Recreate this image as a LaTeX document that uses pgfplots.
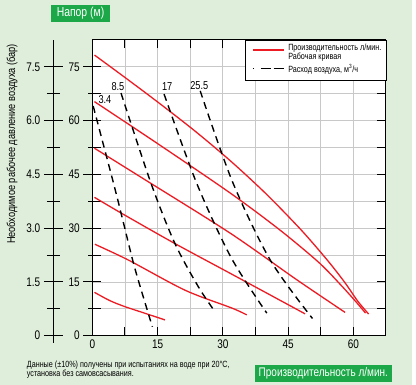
\documentclass[border=0pt]{standalone}
\usepackage{fontspec}
\setmainfont{Liberation Sans}[FakeStretch=0.8]
\usepackage{pgfplots}
\pgfplotsset{compat=1.18}
\definecolor{bggreen}{RGB}{223,238,219}
\definecolor{boxgreen}{RGB}{28,168,72}
\definecolor{cred}{RGB}{237,28,36}
\definecolor{gridgray}{RGB}{200,200,200}
\pgfplotsset{
  geom/.style={scale only axis, width=293.7pt, height=295.7pt,
    at={(92.3pt,49.3pt)}, anchor=south west,
    xmin=0, xmax=67.5, ymin=0, ymax=82.5,
    /pgf/number format/assume math mode=true},
  redc/.style={cred, line width=1.3pt, smooth, no marks},
  airc/.style={black, line width=1.4pt, smooth, no marks, dash pattern=on 7pt off 5pt},
}
\begin{document}
\begin{tikzpicture}[x=1pt,y=1pt]
\useasboundingbox (0,0) rectangle (416,385);
\fill[bggreen] (0,0) rectangle (411.7,385);
\fill[white] (411.7,0) rectangle (416,385);

% secondary (bar) axis
\begin{axis}[scale only axis, width=1pt, height=295.7pt,
  at={(53.3pt,49.3pt)}, anchor=south west,
  ymin=0, ymax=8.25, xmin=0, xmax=1,
  hide x axis, axis y line*=left,
  axis line style={-, black, line width=1pt, shorten <=-7pt},
  ytick={0,1.5,3,4.5,6,7.5},
  yticklabels={0,1.5,3.0,4.5,6.0,7.5},
  minor ytick={0.75,2.25,3.75,5.25,6.75},
  tick align=center, major tick length=19pt, minor tick length=13pt,
  tick style={black, line width=1pt},
  yticklabel style={font=\fontsize{12.5}{12.5}\selectfont},
  /pgf/number format/assume math mode=true]
\end{axis}

% main axis
\begin{axis}[geom,
  axis background/.style={fill=white},
  xtick={0,15,30,45,60}, xticklabels={0,15,30,45,60},
  minor xtick={7.5,22.5,37.5,52.5},
  ytick={0,15,30,45,60,75}, yticklabels={},
  minor ytick={7.5,22.5,37.5,52.5,67.5},
  grid=both,
  major grid style={gridgray, line width=0.8pt},
  minor grid style={gridgray, line width=0.8pt},
  tick align=inside, major tick length=8.5pt, minor tick length=8.5pt,
  tick style={black, line width=1pt},
  axis line style={black, line width=1pt},
  xticklabel style={font=\fontsize{12.5}{12.5}\selectfont, yshift=-1pt},
  clip=false]

% pump performance curves (l/min vs m)
\addplot[redc] coordinates {(0.5,78.3) (8,71.6) (16,64.3) (24,56.7) (32,48.5) (40,39.5) (48,29.5) (54,21.1) (58,14.9) (61,9.65) (63.5,6.05)};
\addplot[redc] coordinates {(0.5,65.3) (15,53.6) (31.7,39.8) (43.1,29.5) (52,20.5) (57,14.3) (60.5,9.6) (62.8,6.3)};
\addplot[redc] coordinates {(0.5,52.3) (12,43.6) (31.7,28.6) (47,15.6) (58.1,6.5)};
\addplot[redc] coordinates {(0.5,38.6) (6.8,34.1) (19,25.7) (32,17.2) (48.9,6.1)};
\addplot[redc] coordinates {(0.6,25.5) (8.3,21.1) (21.3,12.7) (32.1,7.7) (35.5,5.8)};
\addplot[redc] coordinates {(0.5,12.1) (4,9.8) (7.5,8.1) (12,6.3) (16.7,4.4)};

% air consumption curves
\addplot[airc] coordinates {(0.2,64.1) (4.8,42.9) (7.1,31.8) (9.8,18.7) (13.8,2.5)};
\addplot[airc] coordinates {(6.6,67.7) (13.5,42.5) (19,25.7) (24.4,13.6) (28.2,6.7)};
\addplot[airc] coordinates {(16.5,67.4) (24,42.5) (31.9,21.8) (40.1,6.3)};
\addplot[airc] coordinates {(24.8,68.3) (32.2,43.0) (40.9,21.1) (50.6,4.8)};

\node[font=\fontsize{11.5}{11.5}\selectfont, inner sep=0pt] at (axis cs:2.9,66.0) {3.4};
\node[font=\fontsize{11.5}{11.5}\selectfont, inner sep=0pt] at (axis cs:5.9,69.4) {8.5};
\node[font=\fontsize{11.5}{11.5}\selectfont, inner sep=0pt] at (axis cs:17.2,69.4) {17};
\node[font=\fontsize{11.5}{11.5}\selectfont, inner sep=0pt] at (axis cs:24.6,69.8) {25.5};

% legend
\draw[black, line width=0.9pt, fill=white] (axis cs:35.25,71.3) rectangle (axis cs:67.5,82.5);
\draw[cred, line width=1.3pt] (axis cs:36.9,79.7) -- (axis cs:44,79.7);
\draw[black, line width=1.3pt, dash pattern=on 1.3pt off 6.7pt on 10pt off 2.7pt on 10.7pt] (axis cs:36.9,74.6) -- (axis cs:44,74.6);
\node[anchor=west, align=left, inner sep=0pt, font=\fontsize{9}{9}\selectfont] at (axis cs:45,79.1) {Производительность л/мин.\\Рабочая кривая};
\node[anchor=west, inner sep=0pt, font=\fontsize{9}{9}\selectfont] at (axis cs:45,74.4) {Расход воздуха, м\textsuperscript{3}/ч};
\end{axis}

% outward left ticks + labels of main axis
\begin{axis}[geom, hide x axis, axis y line*=left,
  axis line style={-, black, line width=1pt},
  ytick={0,15,30,45,60,75}, yticklabels={0,15,30,45,60,75},
  minor ytick={7.5,22.5,37.5,52.5,67.5},
  tick align=outside, major tick length=9pt, minor tick length=4pt,
  tick style={black, line width=1pt},
  yticklabel style={font=\fontsize{12.5}{12.5}\selectfont}]
\end{axis}

% y label
\node[rotate=90, font=\fontsize{11.5}{11.5}\selectfont, inner sep=0pt] at (12,241) {Необходимое рабочее давление воздуха (бар)};

% title boxes
\fill[boxgreen] (51,363.3) rectangle (110,380);
\node[white, font=\fontsize{13}{13}\selectfont, inner sep=0pt] at (80.5,371.7) {Напор (м)};
\fill[boxgreen] (255,3) rectangle (391.7,20.3);
\node[white, font=\fontsize{12.5}{12.5}\selectfont, inner sep=0pt] at (323.3,11.7) {Производительность л/мин.};

% note
\node[anchor=north west, align=left, inner sep=0pt, font=\fontsize{9}{9}\selectfont] at (26.7,24.5) {Данные (±10\%) получены при испытаниях на воде при 20°C,\\установка без самовсасывания.};
\end{tikzpicture}
\end{document}
